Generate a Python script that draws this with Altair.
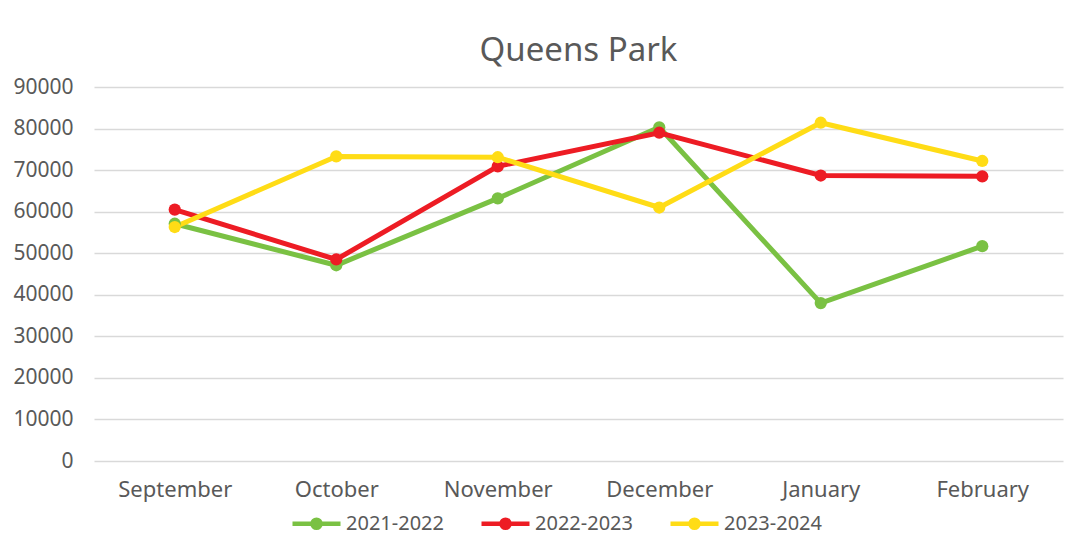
import altair as alt
import pandas as pd

months = ["September", "October", "November", "December", "January", "February"]
series = ["2021-2022", "2022-2023", "2023-2024"]
v_2021_2022 = [57100, 47100, 63200, 80300, 38000, 51700]
v_2022_2023 = [60500, 48500, 70900, 79000, 68700, 68500]
v_2023_2024 = [56300, 73300, 73100, 61000, 81400, 72200]
colors = ["#7ac143", "#ed1c24", "#ffdc16"]
y_ticks = [0, 10000, 20000, 30000, 40000, 50000, 60000, 70000, 80000, 90000]

rows = []
for s, vals in zip(series, [v_2021_2022, v_2022_2023, v_2023_2024]):
    for m, v in zip(months, vals):
        rows.append({"Month": m, "Season": s, "Value": v})
df = pd.DataFrame(rows)

FONT = "Noto Sans"
GREY = "#595959"

legend_path = ("M-1,0H1"
               "M-0.17,0A0.17,0.17 0 1,0 0.17,0A0.17,0.17 0 1,0 -0.17,0"
               "M-0.08,0A0.08,0.08 0 1,0 0.08,0A0.08,0.08 0 1,0 -0.08,0")

chart = alt.Chart(df).mark_line(
    strokeWidth=5,
    point=alt.OverlayMarkDef(filled=True, size=150, opacity=1),
).encode(
    x=alt.X("Month:N", sort=months, title=None,
            axis=alt.Axis(labelAngle=0, ticks=False, domain=False, grid=False,
                          labelFontSize=22, labelColor=GREY, labelFont=FONT,
                          labelPadding=18)),
    y=alt.Y("Value:Q", title=None,
            scale=alt.Scale(domain=[0, 90000], nice=False),
            axis=alt.Axis(values=y_ticks, format="d", ticks=False, domain=False,
                          labelFontSize=21, labelColor=GREY, labelFont=FONT,
                          labelPadding=21, gridColor="#d9d9d9", gridWidth=1.3)),
    color=alt.Color("Season:N", sort=series,
                    scale=alt.Scale(domain=series, range=colors),
                    legend=alt.Legend(orient="none", direction="horizontal",
                                      legendX=196, legendY=410, padding=0,
                                      title=None, symbolType=legend_path,
                                      symbolSize=2304, symbolStrokeWidth=4.5,
                                      labelFontSize=20, labelColor=GREY,
                                      labelFont=FONT, columnPadding=28,
                                      labelOffset=3)),
    order=alt.Order("Season:N"),
).properties(
    width=969,
    height=374,
    title=alt.TitleParams("Queens Park", fontSize=33, font=FONT, color=GREY,
                          fontWeight="normal", anchor="middle", offset=8),
    autosize=alt.AutoSizeParams(type="none"),
    padding={"left": 86, "top": 79, "right": 20, "bottom": 86},
).configure(background="white").configure_view(strokeWidth=0)

chart.save("out.html", embed_options={"renderer": "svg", "actions": False})
